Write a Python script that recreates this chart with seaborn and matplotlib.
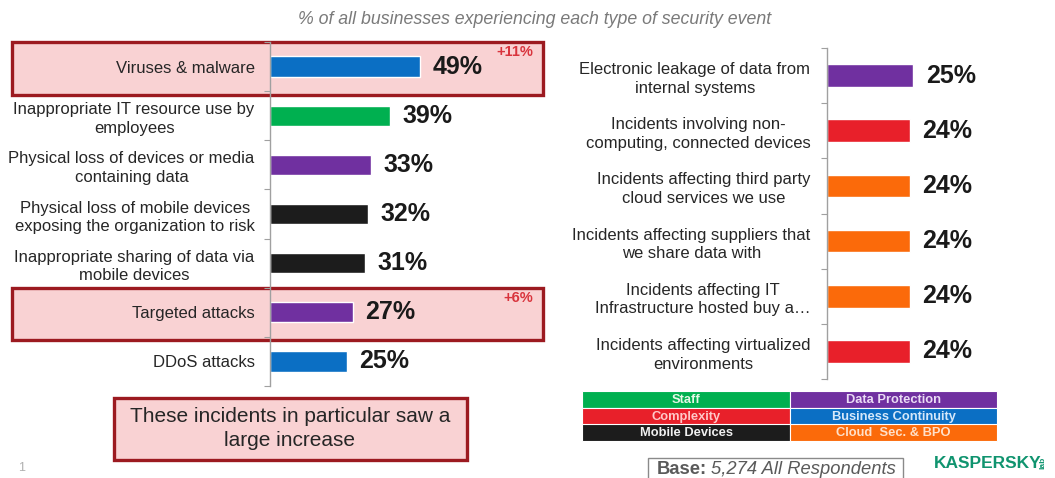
import numpy as np
import pandas as pd
import matplotlib
matplotlib.use("Agg")
import matplotlib.pyplot as plt
from matplotlib.patches import Rectangle
from matplotlib.transforms import blended_transform_factory
import seaborn as sns

# ---------------- data ----------------
left_categories = [
    "Viruses & malware",
    "Inappropriate IT resource use by\nemployees",
    "Physical loss of devices or media\ncontaining data",
    "Physical loss of mobile devices\nexposing the organization to risk",
    "Inappropriate sharing of data via\nmobile devices",
    "Targeted attacks",
    "DDoS attacks",
]
left_values = [49, 39, 33, 32, 31, 27, 25]
left_groups = ["Business Continuity", "Staff", "Data Protection", "Mobile Devices",
               "Mobile Devices", "Data Protection", "Business Continuity"]

right_categories = [
    "Electronic leakage of data from\ninternal systems",
    "Incidents involving non-\ncomputing, connected devices",
    "Incidents affecting third party\ncloud services we use",
    "Incidents affecting suppliers that\nwe share data with",
    "Incidents affecting IT\nInfrastructure hosted buy a\u2026",
    "Incidents affecting virtualized\nenvironments",
]
right_values = [25, 24, 24, 24, 24, 24]
right_groups = ["Data Protection", "Complexity", "Cloud  Sec. & BPO", "Cloud  Sec. & BPO",
                "Cloud  Sec. & BPO", "Complexity"]

highlights = {0: "+11%", 5: "+6%"}

legend_groups = [["Staff", "Data Protection"],
                 ["Complexity", "Business Continuity"],
                 ["Mobile Devices", "Cloud  Sec. & BPO"]]

title_text = "% of all businesses experiencing each type of security event"
callout_text = "These incidents in particular saw a\nlarge increase"

group_colors = {
    "Staff": "#00b050",
    "Data Protection": "#7030a0",
    "Complexity": "#e8202a",
    "Business Continuity": "#0b6fc4",
    "Mobile Devices": "#1c1c1c",
    "Cloud  Sec. & BPO": "#fb6a0a",
}
legend_text_colors = {
    "Staff": "#e6f7e6",
    "Data Protection": "#eadcf5",
    "Complexity": "#ffc8c8",
    "Business Continuity": "#d6e8fa",
    "Mobile Devices": "#f0f0f0",
    "Cloud  Sec. & BPO": "#ffe0c8",
}

# ---------------- figure ----------------
sns.set_theme(style="white")
plt.rcParams["font.family"] = ["Liberation Sans", "DejaVu Sans"]

W, H = 1055, 478
fig = plt.figure(figsize=(W / 100, H / 100), dpi=100)
fig.patch.set_facecolor("white")


def fx(px):
    return px / W


def fy(py):
    return 1 - py / H


def make_axes(x0, x1, y0, y1):
    return fig.add_axes([fx(x0), fy(y1), fx(x1) - fx(x0), fy(y0) - fy(y1)])


def draw_panel(ax, cats, vals, groups, xmax, label_size, pad, val_size):
    df = pd.DataFrame({"cat": cats, "val": vals, "grp": groups})
    sns.barplot(data=df, y="cat", x="val", hue="grp", palette=group_colors,
                dodge=False, legend=False, width=0.41, ax=ax, orient="h",
                saturation=1)
    ax.set_facecolor("none")
    ax.set_xlim(0, xmax)
    ax.set_ylim(len(cats) - 0.5, -0.5)
    ax.set_xlabel("")
    ax.set_ylabel("")
    ax.set_xticks([])
    for s in ["top", "right", "bottom"]:
        ax.spines[s].set_visible(False)
    ax.spines["left"].set_color("#a0a0a0")
    ax.spines["left"].set_linewidth(1.0)
    ax.set_yticks(range(len(cats)))
    ax.set_yticklabels(cats)
    ax.set_yticks(np.arange(-0.5, len(cats), 1), minor=True)
    ax.tick_params(axis="y", which="major", length=0, pad=pad,
                   labelsize=label_size, labelcolor="#262626")
    ax.tick_params(axis="y", which="minor", length=4, width=0.8,
                   color="#a0a0a0", left=True)
    for lab in ax.get_yticklabels():
        lab.set_multialignment("center")
        lab.set_linespacing(1.3)
    for cont in ax.containers:
        ax.bar_label(cont, fmt="%d%%", padding=9, fontsize=val_size,
                     fontweight="bold", color="#1a1a1a")


# left panel
axL = make_axes(270, 545, 42, 386)
draw_panel(axL, left_categories, left_values, left_groups, 275 / 3.07, 12, 11, 18)

# right panel
axR = make_axes(827, 1000, 48, 379)
draw_panel(axR, right_categories, right_values, right_groups, 173 / 3.45, 12, 12, 18)

# highlight boxes behind left rows
bt = blended_transform_factory(fig.transFigure, axL.transData)
for idx, txt in highlights.items():
    rect = Rectangle((fx(12), idx - 0.5), fx(543) - fx(12), 1.07, transform=bt,
                     facecolor="#f9d2d3", edgecolor="#9c1a20", linewidth=2.4,
                     zorder=-5)
    fig.add_artist(rect)
    fig.text(fx(533), idx - 0.29, txt, transform=bt,
             ha="right", va="center", fontsize=10.5, fontweight="bold", color="#d9343d")

# title
fig.text(fx(535), fy(20), title_text, ha="center", va="center", fontsize=12.8,
         style="italic", color="#7a7a7a")

# callout box
fig.add_artist(Rectangle((fx(114), fy(460)), fx(467) - fx(114), fy(398) - fy(460),
                         transform=fig.transFigure, facecolor="#f9d2d3",
                         edgecolor="#9c1a20", linewidth=2.4, zorder=-5))
fig.text(fx(290), fy(428.5), callout_text, ha="center", va="center", fontsize=15,
         color="#262626", linespacing=1.4, multialignment="center")

# page number
fig.text(fx(22), fy(468), "1", ha="center", va="center", fontsize=9, color="#b0b0b0")

# legend table
col_x = [582, 790, 997]
row_y = [391, 408, 424.5, 441]
for r, row in enumerate(legend_groups):
    for c, g in enumerate(row):
        x0, x1 = col_x[c], col_x[c + 1]
        y0, y1 = row_y[r], row_y[r + 1]
        fig.add_artist(Rectangle((fx(x0), fy(y1)), fx(x1) - fx(x0), fy(y0) - fy(y1),
                                 transform=fig.transFigure, facecolor=group_colors[g],
                                 edgecolor="white", linewidth=0.8))
        fig.text(fx((x0 + x1) / 2), fy((y0 + y1) / 2 + 0.5), g,
                 ha="center", va="center", fontsize=9.3, fontweight="bold",
                 color=legend_text_colors[g])

# base box
fig.add_artist(Rectangle((fx(648), fy(490)), fx(903) - fx(648), fy(458) - fy(490),
                         transform=fig.transFigure, facecolor="white",
                         edgecolor="#8a8a8a", linewidth=1.0, clip_on=False))
t1 = fig.text(fx(657), fy(469.5), "Base:", ha="left", va="center", fontsize=13.2,
              fontweight="bold", color="#5a5a5a")
fig.canvas.draw()
bb = t1.get_window_extent()
fig.text(bb.x1 / W + fx(4), fy(469.5), "5,274 All Respondents", ha="left", va="center",
         fontsize=13.2, style="italic", color="#5a5a5a")

# logo
fig.text(fx(934), fy(463), "KASPERSKY", ha="left", va="center", fontsize=12.5,
         fontweight="bold", color="#10946f")
fig.text(fx(1043), fy(463), "lab", ha="center", va="center", fontsize=6,
         fontweight="bold", color="#10946f", rotation=90)

fig.savefig("out.png", dpi=100, facecolor="white")
